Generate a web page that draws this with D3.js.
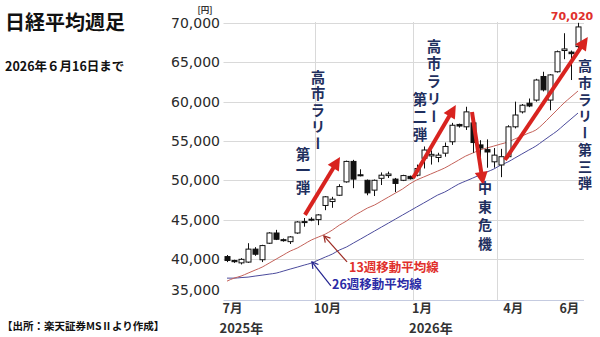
<!DOCTYPE html>
<html><head><meta charset="utf-8">
<script src="https://cdn.jsdelivr.net/npm/d3@7/dist/d3.min.js"></script>
<style>body{margin:0;background:#fff}svg{display:block}</style>
</head><body><svg id="c" width="600" height="337"></svg>
<script>
const weeks = ["2025-06-30","2025-07-07","2025-07-14","2025-07-21","2025-07-28","2025-08-04","2025-08-11","2025-08-18","2025-08-25","2025-09-01","2025-09-08","2025-09-15","2025-09-22","2025-09-29","2025-10-06","2025-10-13","2025-10-20","2025-10-27","2025-11-03","2025-11-10","2025-11-17","2025-11-24","2025-12-01","2025-12-08","2025-12-15","2025-12-22","2025-12-29","2026-01-05","2026-01-12","2026-01-19","2026-01-26","2026-02-02","2026-02-09","2026-02-16","2026-02-23","2026-03-02","2026-03-09","2026-03-16","2026-03-23","2026-03-30","2026-04-06","2026-04-13","2026-04-20","2026-04-27","2026-05-04","2026-05-11","2026-05-18","2026-05-25","2026-06-01","2026-06-08","2026-06-15"];
const openV  = [40300,39800,39500,39600,41250,39900,42000,43300,42450,42200,43300,44650,44950,45000,46800,47300,48100,49800,52400,50700,50000,48750,50250,50600,50150,50000,50500,50650,52800,53100,52900,53450,54900,57100,56800,57300,54500,53900,52350,51950,53000,56800,58700,59800,60200,63200,60200,63800,66500,66300,67000];
const highV  = [40500,39900,40100,42000,41500,41800,43400,43700,42600,42900,44800,45200,45300,45700,48000,47900,49500,52500,52600,51400,50100,50100,51000,51100,50300,50700,50600,52000,54300,53800,53500,54800,57300,57200,59350,58300,55100,55200,54100,54000,57000,60000,59700,60400,62900,63800,63500,66500,68700,66500,70020];
const lowV   = [39600,39500,39300,39500,40400,39600,41900,42400,42200,41900,43200,44100,44800,44300,46200,46500,48000,49700,49000,50500,48100,48000,49400,50300,48500,49900,50100,50500,51500,52000,52300,53000,54500,56700,56400,53500,52900,51600,51600,50400,52800,56600,58500,59300,60000,61300,58900,63700,65400,62750,66800];
const closeV = [39800,39650,39950,41250,40600,41700,43300,42500,42350,42800,44700,44750,45050,45600,47900,47600,49200,52400,50150,50600,48400,50000,50650,50800,49600,50600,50200,51500,53850,53300,53200,54300,57000,56900,58700,54800,54100,53600,53200,53000,56800,58300,59550,59450,62750,61500,63400,66350,66700,66100,69500];
const ma13 = [37180,37560,37820,38200,38580,38960,39470,39980,40490,41000,41380,41890,42400,42780,43160,43670,44300,44810,45450,45960,46470,46850,47360,47870,48380,48890,49520,50030,50410,50790,51170,51560,52060,52570,53080,53460,53850,54100,54350,54610,54860,55250,55630,56010,56390,57150,58040,58930,59820,60590,61350];
const ma26 = [37560,37560,37630,37690,37820,37940,38070,38200,38450,38710,38960,39220,39470,39850,40240,40620,41130,41510,42020,42520,43030,43540,44050,44560,45070,45580,46090,46600,47100,47610,48120,48500,49010,49520,49900,50280,50670,51050,51430,51940,52320,52830,53340,53850,54350,54990,55630,56260,57030,57790,58550];
const yTicks = [35000,40000,45000,50000,55000,60000,65000,70000];
const gridWeeks = ["2025-09-29","2026-01-05","2026-03-30"];
const xLabelWeeks = ["2025-06-30","2025-09-29","2026-01-05","2026-04-06","2026-06-01"];
const xLabelMonths = ["7月","10月","1月","4月","6月"];
const xLabelYears = ["2025年","","2026年","",""];
const highLabel = "70,020";

const svg = d3.select("#c");
const JP = "'Noto Sans CJK JP','Noto Sans',sans-serif";
const NUM = "'DejaVu Sans',Verdana,sans-serif";
const L = 223.5, R = 581.5, T = 23, B = 300;
const x = d3.scaleBand().domain(weeks).range([L, R]).padding(0);
const bw = x.bandwidth();
const xc = d => x(d) + bw / 2;
const xi = i => L + bw / 2 + i * x.step();
const y = d3.scaleLinear().domain([34780, 70000]).range([B, T]);

// gridlines
svg.append("g").selectAll("line").data(yTicks.filter(v => v > 35000)).join("line")
  .attr("x1", L).attr("x2", 584).attr("y1", d => Math.round(y(d)) + 0.5).attr("y2", d => Math.round(y(d)) + 0.5)
  .attr("stroke", "#d9d9d9").attr("stroke-width", 1);
svg.append("g").selectAll("line").data(gridWeeks).join("line")
  .attr("x1", d => Math.round(x(d)) + 0.5).attr("x2", d => Math.round(x(d)) + 0.5)
  .attr("y1", T - 1).attr("y2", B)
  .attr("stroke", "#d9d9d9");
svg.append("line").attr("x1", L).attr("x2", 584).attr("y1", B + 0.5).attr("y2", B + 0.5).attr("stroke", "#c5cbe0");

// y labels
svg.append("g").selectAll("text").data(yTicks).join("text")
  .attr("x", 220).attr("y", d => y(d) + (d === 35000 ? -8 : 0)).attr("dy", "0.36em")
  .attr("text-anchor", "end").attr("font-family", NUM).attr("font-size", 14).attr("fill", "#2a2a2a")
  .text(d => d3.format(",")(d));
svg.append("text").attr("x", 205).attr("y", 13).attr("text-anchor", "middle").attr("font-family", JP)
  .attr("font-size", 8.5).attr("font-weight", "bold").attr("fill", "#333").text("[円]");

// x labels
const xl = svg.append("g").attr("font-family", JP).attr("font-weight", "bold").attr("fill", "#333");
xl.selectAll("text.m").data(xLabelWeeks).join("text").attr("class", "m")
  .attr("x", d => x(d) - 1).attr("y", 313).attr("font-size", 12.5).text((d, i) => xLabelMonths[i]);
xl.selectAll("text.yr").data(xLabelWeeks).join("text").attr("class", "yr")
  .attr("x", d => x(d) - 4).attr("y", 333).attr("font-size", 13).text((d, i) => xLabelYears[i]);

// moving averages
const line = d3.line().x((d, i) => xc(weeks[i])).y(d => y(d)).curve(d3.curveMonotoneX);
svg.append("path").attr("d", line(ma26)).attr("fill", "none").attr("stroke", "#4b4b9c").attr("stroke-width", 1);
svg.append("path").attr("d", line(ma13)).attr("fill", "none").attr("stroke", "#c4625a").attr("stroke-width", 1);

// candles
const cg = svg.append("g");
weeks.forEach((w, i) => {
  const cx = Math.round(xc(w)) + 0.5;
  cg.append("line").attr("x1", cx).attr("x2", cx).attr("y1", y(highV[i])).attr("y2", y(lowV[i]))
    .attr("stroke", "#111").attr("stroke-width", 1);
  const top = y(Math.max(openV[i], closeV[i])), bot = y(Math.min(openV[i], closeV[i]));
  cg.append("rect").attr("x", cx - 2.5).attr("width", 5).attr("y", top).attr("height", Math.max(1, bot - top))
    .attr("fill", closeV[i] >= openV[i] ? "#fff" : "#111").attr("stroke", "#111").attr("stroke-width", 1);
});

// arrows
function arrow(a, b, color, w, hl, hw) {
  const x1 = xi(a[0]), y1 = y(a[1]), x2 = xi(b[0]), y2 = y(b[1]);
  const dx = x2 - x1, dy = y2 - y1, len = Math.hypot(dx, dy), ux = dx / len, uy = dy / len;
  const bx = x2 - ux * hl, by = y2 - uy * hl;
  svg.append("line").attr("x1", x1).attr("y1", y1).attr("x2", x2 - ux * hl * 0.7).attr("y2", y2 - uy * hl * 0.7)
    .attr("stroke", color).attr("stroke-width", w);
  svg.append("path").attr("d", `M${x2},${y2}L${bx - uy * hw},${by + ux * hw}L${bx + uy * hw},${by - ux * hw}Z`).attr("fill", color);
}
function thinArrow(a, b, color) {
  const x1 = xi(a[0]), y1 = y(a[1]), x2 = xi(b[0]), y2 = y(b[1]);
  const dx = x2 - x1, dy = y2 - y1, len = Math.hypot(dx, dy), ux = dx / len, uy = dy / len;
  const bx = x2 - ux * 6, by = y2 - uy * 6;
  svg.append("line").attr("x1", x1).attr("y1", y1).attr("x2", x2).attr("y2", y2).attr("stroke", color).attr("stroke-width", 1.2);
  svg.append("path").attr("d", `M${bx - uy * 3.5},${by + ux * 3.5}L${x2},${y2}L${bx + uy * 3.5},${by - ux * 3.5}`)
    .attr("fill", "none").attr("stroke", color).attr("stroke-width", 1.2);
}
const RED = "#d8231f";
arrow([11.1, 45600], [16.1, 52970], RED, 4, 13, 6.5);
arrow([26.5, 50300], [32.6, 59580], RED, 4, 13, 6.5);
arrow([34.9, 58690], [36.5, 49410], RED, 4, 13, 6.5);
arrow([39.6, 52590], [51.4, 68220], RED, 4, 13, 6.5);
thinArrow([17.1, 39620], [13.8, 42930], "#9c2a22");
thinArrow([14.8, 36570], [12.1, 39620], "#23238f");

// MA labels
svg.append("text").attr("x", 349).attr("y", 272).attr("font-family", JP).attr("font-size", 12.5).attr("font-weight", "bold")
  .attr("fill", "#e0302c").text("13週移動平均線");
svg.append("text").attr("x", 332).attr("y", 289).attr("font-family", JP).attr("font-size", 12.5).attr("font-weight", "bold")
  .attr("fill", "#2b2ba6").text("26週移動平均線");

// vertical annotations
function vtext(cx, top, s, size, ls) {
  svg.append("text").attr("x", cx).attr("y", top).style("writing-mode", "vertical-rl")
    .attr("font-family", JP).attr("font-size", size).attr("font-weight", "bold").attr("fill", "#1f2f5e")
    .attr("letter-spacing", ls).text(s);
}
vtext(318, 70, "高市ラリー", 14.5, 2);
vtext(303, 147, "第一弾", 14.5, 2);
vtext(434, 39, "高市ラリー", 14.5, 3);
vtext(420, 92, "第二弾", 14.5, 3);
vtext(485, 181, "中東危機", 14, 4.5);
vtext(585, 59, "高市ラリー第三弾", 14, 2.7);

// high label
svg.append("text").attr("x", xi(50) - 6).attr("y", 20).attr("text-anchor", "middle").attr("font-family", NUM)
  .attr("font-size", 11).attr("font-weight", "bold").attr("fill", "#e0302c").text(highLabel);

// titles
svg.append("text").attr("x", 5).attr("y", 30).attr("font-family", JP).attr("font-size", 20).attr("font-weight", "bold")
  .attr("fill", "#111").text("日経平均週足");
svg.append("text").attr("x", 5).attr("y", 71).attr("font-family", JP).attr("font-size", 12.5).attr("font-weight", "bold")
  .attr("fill", "#111").text("2026年６月16日まで");
svg.append("text").attr("x", 2).attr("y", 330).attr("font-family", JP).attr("font-size", 10.5).attr("font-weight", "bold")
  .attr("fill", "#111").text("【出所：楽天証券MSⅡより作成】");
</script></body></html>
